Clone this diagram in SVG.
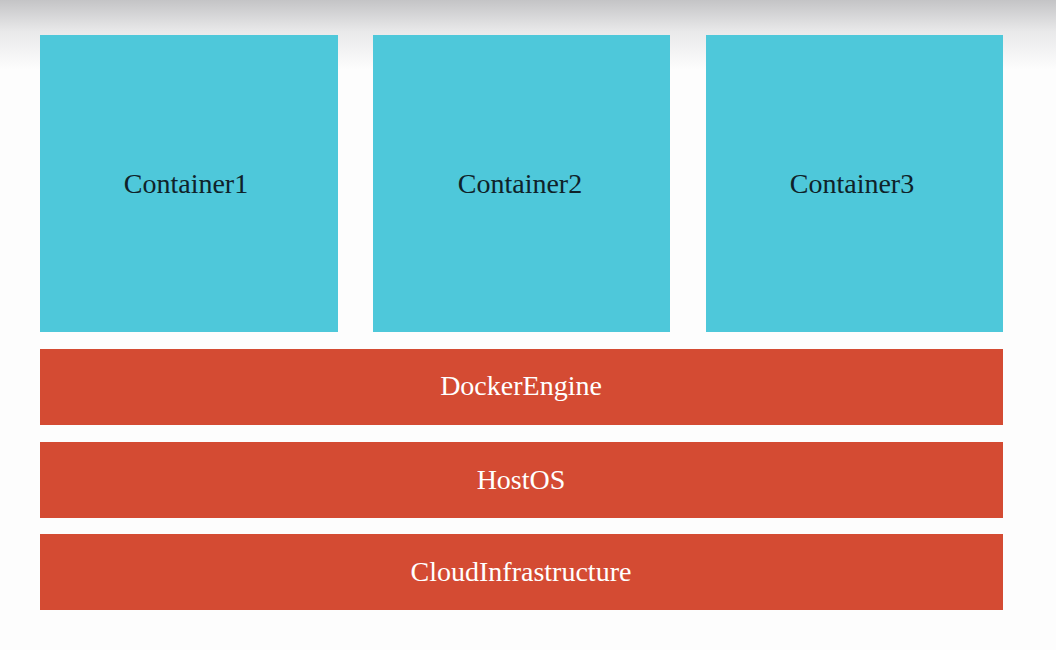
<svg xmlns="http://www.w3.org/2000/svg" width="1056" height="650" viewBox="0 0 1056 650">
<defs>
<linearGradient id="top" x1="0" y1="0" x2="0" y2="1">
<stop offset="0" stop-color="#c4c4c6"/>
<stop offset="0.45" stop-color="#e9e9ea"/>
<stop offset="1" stop-color="#fdfdfd"/>
</linearGradient>
</defs>
<style>
.c{fill:#4ec8da}
.r{fill:#d44b33}
.t{font-family:"Liberation Serif",serif;font-size:28px;text-anchor:middle}
.tc{fill:#0f2229}
.tr{fill:#fff}
</style>
<rect x="0" y="0" width="1056" height="650" fill="#fdfdfd"/>
<rect x="0" y="0" width="1056" height="70" fill="url(#top)"/>
<g id="container1"><rect class="c" x="40" y="35" width="298" height="297"/><text class="t tc" x="186" y="193">Container1</text></g>
<g id="container2"><rect class="c" x="373" y="35" width="297" height="297"/><text class="t tc" x="520" y="193">Container2</text></g>
<g id="container3"><rect class="c" x="706" y="35" width="297" height="297"/><text class="t tc" x="852" y="193">Container3</text></g>
<g id="dockerengine"><rect class="r" x="40" y="349" width="963" height="76"/><text class="t tr" x="521" y="395">DockerEngine</text></g>
<g id="hostos"><rect class="r" x="40" y="442" width="963" height="76"/><text class="t tr" x="521" y="489">HostOS</text></g>
<g id="cloudinfrastructure"><rect class="r" x="40" y="534" width="963" height="76"/><text class="t tr" x="521" y="581">CloudInfrastructure</text></g>
<g id="connectors"></g>
</svg>
